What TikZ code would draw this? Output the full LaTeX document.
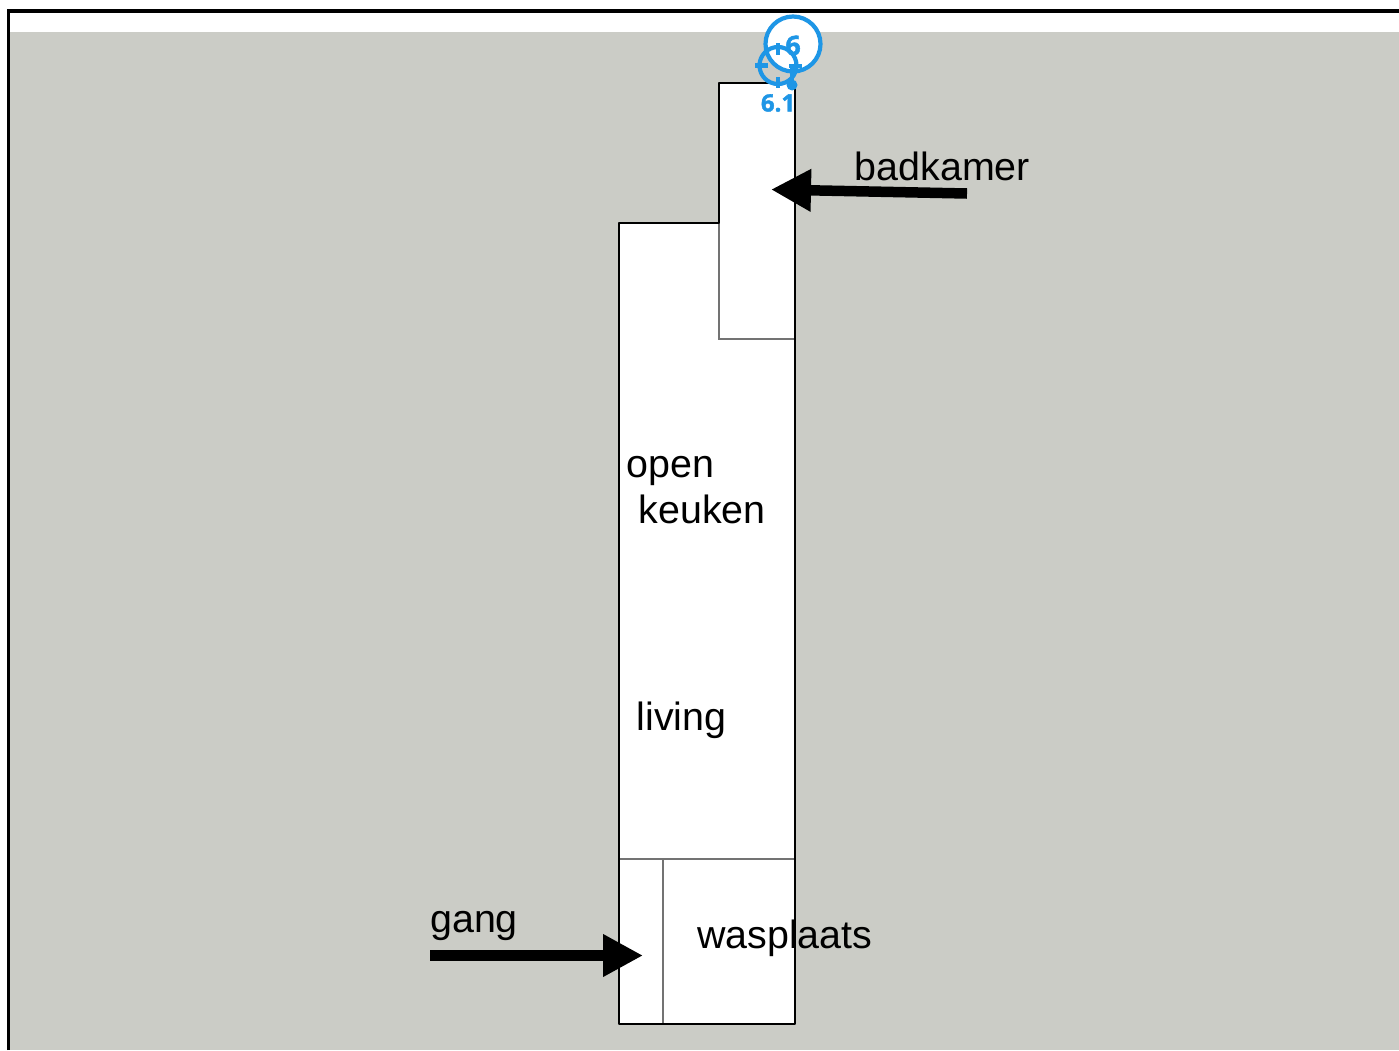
\documentclass[tikz,border=0pt]{standalone}
\usepackage{fontspec}
\setmainfont{Liberation Sans}
\newfontfamily\notafont[Scale=1,FakeBold=1.5]{Open Sans Bold}
\usetikzlibrary{arrows.meta}
\definecolor{ground}{HTML}{CBCCC6}
\definecolor{markblue}{HTML}{1E96E6}
\tikzset{
  x=1pt,y=-1pt,
  wall/.style={draw=black,line width=1.5pt,line join=round},
  roomline/.style={draw=black!55,line width=1.2pt},
  lbl/.style={anchor=base west,inner sep=0pt,font=\fontsize{39.4pt}{39.4pt}\selectfont,text=black},
  pointer/.style={line width=10.5pt,draw=black,-{Triangle[length=40pt,width=40pt]}},
  ring/.style={draw=markblue,line width=4.2pt},
  tick/.style={draw=markblue,line width=4.6pt},
  marklbl/.style={inner sep=0pt,text=markblue}
}
\begin{document}
\begin{tikzpicture}
\useasboundingbox (0,0) rectangle (1399,1050);
\fill[white] (0,0) rectangle (1399,1050);
\fill[ground] (9,32) rectangle (1399,1050);
\draw[black,line width=3.5pt] (8.5,1050) -- (8.5,11) -- (1399,11);
% building
\fill[white] (719,83) -- (795,83) -- (795,1024) -- (619,1024) -- (619,223) -- (719,223) -- cycle;
\draw[roomline] (719,223) -- (719,339) -- (795,339);
\draw[roomline] (619,859) -- (795,859);
\draw[roomline] (663,859) -- (663,1024);
\draw[wall] (719,83) -- (795,83) -- (795,1024) -- (619,1024) -- (619,223) -- (719,223) -- cycle;
% labels
\node[lbl] (badkamer) at (854.5,180) {badkamer};
\node[lbl] (open) at (626.5,477) {open};
\node[lbl] (keuken) at (638.5,523) {keuken};
\node[lbl] (living) at (636.5,730) {living};
\node[lbl] (gang) at (430,932) {gang};
\node[lbl] (wasplaats) at (697,948) {wasplaats};
% pointers
\coordinate (a1) at (967,193.5);
\coordinate (a2) at (771,189.5);
\coordinate (b1) at (430,955.5);
\coordinate (b2) at (643,955.5);
\draw[pointer] (a1) -- (a2);
\draw[pointer] (b1) -- (b2);
% blue marks
\draw[ring,fill=white] (793,44) circle (27.5);
\node[marklbl,font=\notafont\fontsize{27pt}{27pt}\selectfont] (six) at (793,45.5) {6};
\draw[ring] (778,65.5) circle (18.5);
\draw[tick] (778,43) -- (778,55);
\draw[tick] (778,77) -- (778,88);
\draw[tick] (755,65.5) -- (768,65.5);
\draw[tick] (789,66) -- (802,66);
\draw[tick] (792,66) -- (792,85);
\fill[markblue] (792,85) circle (5.5);
\node[marklbl,font=\notafont\fontsize{24pt}{24pt}\selectfont] (sixone) at (778,103) {6.1};
\end{tikzpicture}
\end{document}
